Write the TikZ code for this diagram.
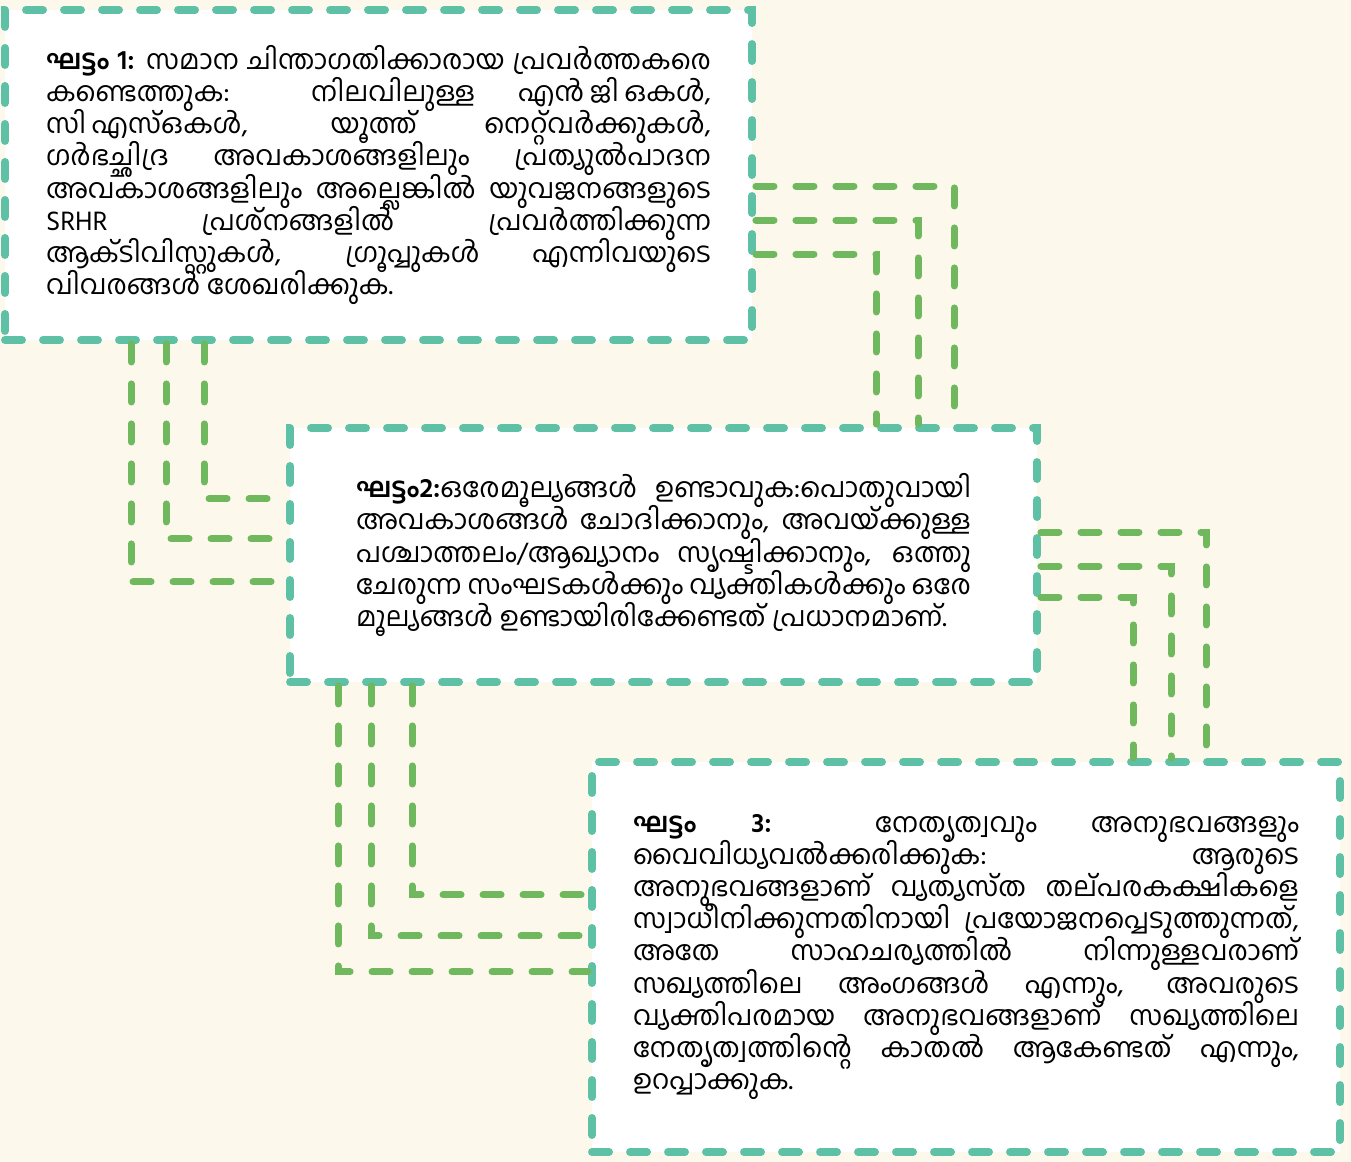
\documentclass[tikz,border=0pt]{standalone}
\usepackage{fontspec}
\newfontfamily\malfont[Script=Malayalam]{Hind Kochi}
\newcommand\stepfont{\malfont\fontsize{15.5}{18.3}\selectfont\lineskiplimit=-100pt\relax}
\usetikzlibrary{positioning}
\definecolor{bgcream}{HTML}{FCF8EC}
\definecolor{stepteal}{HTML}{5EC1A5}
\definecolor{linkgreen}{HTML}{70B85E}

\begin{document}
\begin{tikzpicture}[
  stepbox/.style={draw=stepteal,fill=white,line width=4.5pt,line cap=round,
                  dash pattern=on 0.34cm off 0.42cm,inner sep=0pt,align=justify,
                  font=\stepfont},
  link/.style={draw=linkgreen,line width=4pt,line cap=round,
               dash pattern=on 0.36cm off 0.44cm}
]

\useasboundingbox (0,0) rectangle (27.02,-23.24);
\fill[bgcream] (0,0) rectangle (27.02,-23.24);

% ---- Step 1 -------------------------------------------------
\node[stepbox,minimum width=14.94cm,minimum height=6.6cm,text width=13.3cm]
  (b1) at (7.57,-3.5)
  {\textbf{ഘട്ടം 1:} സമാന ചിന്താഗതിക്കാരായ പ്രവർത്തകരെ\linebreak
   കണ്ടെത്തുക: നിലവിലുള്ള എൻ\hspace{0.2em}ജി\hspace{0.2em}ഒകൾ,\linebreak
   സി\hspace{0.2em}എസ്ഒകൾ, യൂത്ത് നെറ്റ്‌വർക്കുകൾ,\linebreak
   ഗർഭച്ഛിദ്ര അവകാശങ്ങളിലും പ്രത്യുൽപാദന\linebreak
   അവകാശങ്ങളിലും അല്ലെങ്കിൽ യുവജനങ്ങളുടെ\linebreak
   SRHR പ്രശ്നങ്ങളിൽ പ്രവർത്തിക്കുന്ന\linebreak
   ആക്ടിവിസ്റ്റുകൾ, ഗ്രൂപ്പുകൾ എന്നിവയുടെ\linebreak
   വിവരങ്ങൾ ശേഖരിക്കുക.};

% ---- Step 2 -------------------------------------------------
\node[stepbox,minimum width=14.94cm,minimum height=5.08cm,text width=12.3cm]
  (b2) at (13.27,-11.1)
  {\textbf{ഘട്ടം2:}ഒരേമൂല്യങ്ങൾ ഉണ്ടാവുക:പൊതുവായി\linebreak
   അവകാശങ്ങൾ ചോദിക്കാനും, അവയ്ക്കുള്ള\linebreak
   പശ്ചാത്തലം/ആഖ്യാനം സൃഷ്ടിക്കാനും, ഒത്തു\linebreak
   ചേരുന്ന സംഘടകൾക്കും വ്യക്തികൾക്കും ഒരേ\linebreak
   മൂല്യങ്ങൾ ഉണ്ടായിരിക്കേണ്ടത് പ്രധാനമാണ്.};

% ---- Step 3 -------------------------------------------------
\node[stepbox,minimum width=14.96cm,minimum height=7.8cm,text width=13.32cm]
  (b3) at (19.32,-19.14)
  {\textbf{ഘട്ടം 3:} നേതൃത്വവും അനുഭവങ്ങളും\linebreak
   വൈവിധ്യവൽക്കരിക്കുക: ആരുടെ\linebreak
   അനുഭവങ്ങളാണ് വ്യത്യസ്ത തല്പരകക്ഷികളെ\linebreak
   സ്വാധീനിക്കുന്നതിനായി പ്രയോജനപ്പെടുത്തുന്നത്,\linebreak
   അതേ സാഹചര്യത്തിൽ നിന്നുള്ളവരാണ്\linebreak
   സഖ്യത്തിലെ അംഗങ്ങൾ എന്നും, അവരുടെ\linebreak
   വ്യക്തിപരമായ അനുഭവങ്ങളാണ് സഖ്യത്തിലെ\linebreak
   നേതൃത്വത്തിന്റെ കാതൽ ആകേണ്ടത് എന്നും,\linebreak
   ഉറപ്പാക്കുക.};

% ---- Links: step 1 down to step 2 ---------------------------
\draw[link] ([xshift=2.6cm]b1.south west)  |- ([yshift=2.08cm]b2.south west);
\draw[link] ([xshift=3.3cm]b1.south west)  |- ([yshift=2.94cm]b2.south west);
\draw[link] ([xshift=4.06cm]b1.south west) |- ([yshift=3.74cm]b2.south west);

% ---- Links: step 1 across to step 2 -------------------------
\draw[link] ([yshift=-3.6cm]b1.north east)  -| ([xshift=13.36cm]b2.north west);
\draw[link] ([yshift=-4.28cm]b1.north east) -| ([xshift=12.64cm]b2.north west);
\draw[link] ([yshift=-4.96cm]b1.north east) -| ([xshift=11.8cm]b2.north west);

% ---- Links: step 2 down to step 3 ---------------------------
\draw[link] ([xshift=1.04cm]b2.south west) |- ([yshift=3.68cm]b3.south west);
\draw[link] ([xshift=1.7cm]b2.south west)  |- ([yshift=4.4cm]b3.south west);
\draw[link] ([xshift=2.52cm]b2.south west) |- ([yshift=5.22cm]b3.south west);

% ---- Links: step 2 across to step 3 -------------------------
\draw[link] ([yshift=-2.16cm]b2.north east) -| ([xshift=12.36cm]b3.north west);
\draw[link] ([yshift=-2.84cm]b2.north east) -| ([xshift=11.66cm]b3.north west);
\draw[link] ([yshift=-3.46cm]b2.north east) -| ([xshift=10.9cm]b3.north west);

\end{tikzpicture}
\end{document}
